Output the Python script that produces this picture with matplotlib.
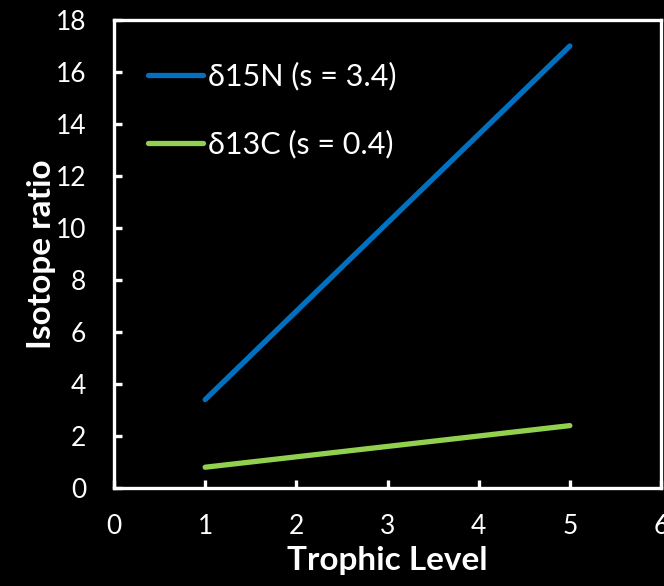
import matplotlib
matplotlib.use("Agg")
import matplotlib.pyplot as plt

plt.rcParams['font.family'] = ['Lato', 'Open Sans', 'DejaVu Sans']

trophic = [1, 5]
d15n = [3.4, 17.0]
d13c = [0.8, 2.4]
labels = ["δ15N (s = 3.4)", "δ13C (s = 0.4)"]

fig = plt.figure(figsize=(6.64, 5.86), dpi=100, facecolor='black')
ax = fig.add_axes([0.1717, 0.1672, 0.8238, 0.7987])
ax.set_facecolor('black')

ax.plot(trophic, d15n, color='#0070C0', lw=3.8, solid_capstyle='round', label=labels[0])
ax.plot(trophic, d13c, color='#92D050', lw=3.8, solid_capstyle='round', label=labels[1])

ax.set_xlim(0, 6)
ax.set_ylim(0, 18)
ax.set_xticks(range(0, 7))
ax.set_yticks(range(0, 19, 2))

for s in ax.spines.values():
    s.set_color('white')
    s.set_linewidth(2.4)

ax.tick_params(colors='white', direction='in', length=6, width=2.4, labelsize=19)
ax.tick_params(axis='x', pad=19)
ax.tick_params(axis='y', pad=20)

ax.set_xlabel('Trophic Level', color='white', fontsize=24, fontweight='bold', labelpad=5)
ax.set_ylabel('Isotope ratio', color='white', fontsize=24, fontweight='bold', labelpad=0)

leg = ax.legend(loc='upper left', bbox_to_anchor=(0.062, 0.91), frameon=False, fontsize=22,
                borderpad=0, borderaxespad=0,
                handlelength=1.8, handletextpad=0.16, labelspacing=1.27, labelcolor='white')

fig.savefig('out.png', dpi=100, facecolor='black')
